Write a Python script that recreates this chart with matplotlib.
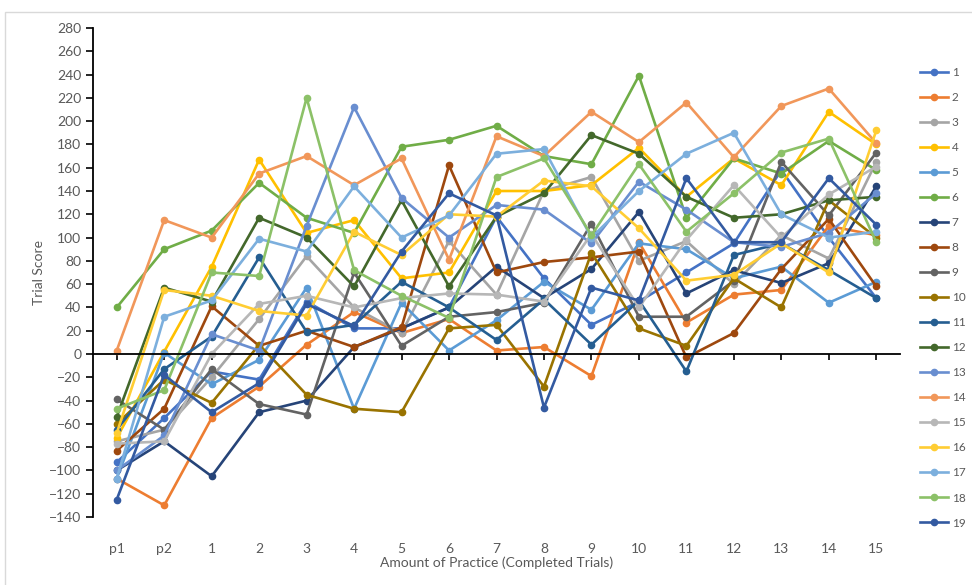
import matplotlib
matplotlib.use("Agg")
from matplotlib import pyplot as plt
from matplotlib.patches import Rectangle
import matplotlib.transforms as mtransforms

# categories on the x axis
categories = ["p1", "p2", "1", "2", "3", "4", "5", "6", "7", "8",
              "9", "10", "11", "12", "13", "14", "15"]

# trial scores per participant
s1 = [-93, -55, -15, -22, 45, 22, 22, 40, 118, 65, 25, 45, 70, 95, 158, 100, 48]
s2 = [-107, -130, -55, -28, 8, 36, 18, 30, 3, 6, -19, 96, 27, 51, 55, 110, 102]
s3 = [-75, -65, -20, 30, 84, 40, 18, 97, 51, 140, 152, 80, 97, 60, 102, 82, 165]
s4 = [-72, 2, 75, 167, 104, 115, 65, 70, 140, 140, 145, 177, 135, 168, 145, 208, 180]
s5 = [-107, 1, -26, -5, 57, -47, 44, 3, 29, 62, 38, 95, 90, 65, 75, 44, 62]
s6 = [40, 90, 106, 147, 117, 104, 178, 184, 196, 170, 163, 239, 117, 168, 155, 183, 158]
s7 = [-100, -75, -105, -50, -40, 6, 22, 40, 75, 48, 73, 122, 52, 72, 61, 78, 144]
s8 = [-83, -47, 41, 7, 20, 6, 23, 162, 70, 79, 83, 88, -3, 18, 73, 116, 58]
s9 = [-39, -65, -13, -43, -52, 70, 7, 32, 36, 44, 112, 32, 32, 63, 165, 119, 173]
s10 = [-60, -22, -42, 8, -35, -47, -50, 22, 25, -28, 87, 22, 7, 65, 40, 132, 100]
s11 = [-65, -13, 15, 83, 19, 25, 62, 40, 12, 47, 8, 46, -15, 85, 95, 72, 48]
s12 = [-54, 57, 45, 117, 100, 58, 132, 58, 118, 138, 188, 172, 135, 117, 120, 132, 135]
s13 = [-100, -70, 17, 3, 110, 212, 134, 100, 128, 124, 95, 148, 124, 96, 92, 104, 138]
s14 = [3, 115, 100, 155, 170, 145, 168, 81, 187, 170, 208, 182, 216, 169, 213, 228, 181]
s15 = [-77, -75, 0, 43, 50, 40, 48, 52, 51, 45, 103, 40, 98, 145, 100, 137, 161]
s16 = [-68, 55, 50, 37, 33, 105, 85, 120, 118, 149, 144, 108, 63, 68, 95, 70, 192]
s17 = [-107, 32, 46, 99, 88, 144, 100, 119, 172, 176, 100, 140, 172, 190, 120, 100, 105]
s18 = [-47, -31, 70, 67, 220, 72, 50, 31, 152, 168, 102, 163, 105, 138, 173, 185, 96]
s19 = [-125, -18, -50, -25, 43, 24, 88, 138, 119, -46, 57, 46, 151, 96, 96, 151, 111]

series = [s1, s2, s3, s4, s5, s6, s7, s8, s9, s10,
          s11, s12, s13, s14, s15, s16, s17, s18, s19]
labels = [str(i) for i in range(1, 20)]

colors = ["#4472C4", "#ED7D31", "#A5A5A5", "#FFC000", "#5B9BD5", "#70AD47",
          "#264478", "#9E480E", "#636363", "#997300", "#255E91", "#43682B",
          "#698ED0", "#F1975A", "#B7B7B7", "#FFCD33", "#7CAFDD", "#8CC168",
          "#335AA1"]

plt.rcParams["font.family"] = ["Lato", "DejaVu Sans"]
grey = "#595959"

fig = plt.figure(figsize=(9.72, 5.85), dpi=100)
ax = fig.add_axes([93 / 972, 1 - 517 / 585, 807 / 972, (517 - 28) / 585])

x = list(range(len(categories)))
for vals, lab, col in zip(series, labels, colors):
    ax.plot(x, vals, "-o", color=col, lw=1.9, ms=4.5, label=lab)

ax.set_xlim(-0.5, len(categories) - 0.5)
ax.set_ylim(-140, 280)
ax.set_yticks(range(-140, 281, 20))
ax.tick_params(axis="y", direction="out", length=5, width=1.2, colors="black",
               labelcolor=grey, labelsize=10)

# horizontal axis line sits at zero, labels at the bottom
for side in ["top", "right"]:
    ax.spines[side].set_visible(False)
ax.spines["left"].set_linewidth(1.3)
ax.spines["bottom"].set_position(("data", 0))
ax.spines["bottom"].set_linewidth(1.3)
ax.set_xticks(x)
ax.set_xticklabels([])
ax.tick_params(axis="x", direction="out", length=4, width=1.2)
trans = mtransforms.blended_transform_factory(ax.transData, ax.transAxes)
for xi, c in zip(x, categories):
    ax.text(xi, -0.065, c, transform=trans, ha="center", va="center",
            color=grey, fontsize=10)

ax.set_ylabel("Trial Score", color=grey, fontsize=10, labelpad=3)
fig.text((93 + 900) / 2 / 972, 1 - 563 / 585, "Amount of Practice (Completed Trials)",
         ha="center", va="center", color=grey, fontsize=10)

ax.legend(loc="upper left", bbox_to_anchor=(915 / 972, 1 - 62 / 585),
          bbox_transform=fig.transFigure, frameon=False, fontsize=8.5,
          labelspacing=1.19, handlelength=2.4, handletextpad=0.3,
          labelcolor=grey, borderaxespad=0)

# thin chart-area border
fig.patches.append(Rectangle((5 / 972, -0.1), 1.2, 1 - 12 / 585 + 0.1,
                             transform=fig.transFigure, fill=False,
                             edgecolor="#d9d9d9", lw=1))

fig.savefig("out.png", dpi=100)
